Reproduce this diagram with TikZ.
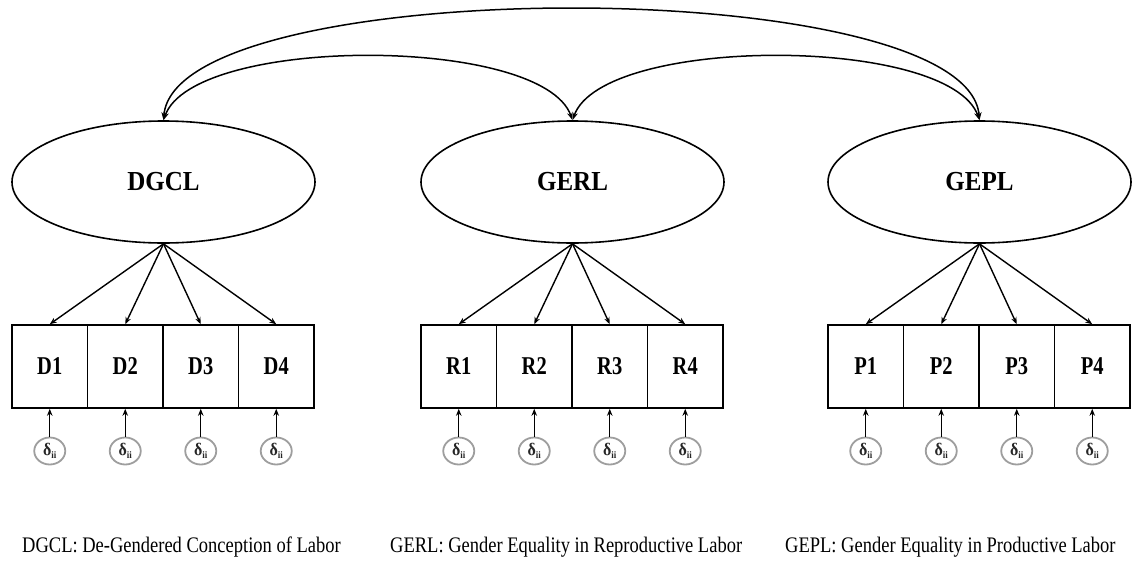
\documentclass[tikz,border=0pt]{standalone}
\usepackage{graphicx}
\usepackage{fontspec}
\setmainfont{Liberation Serif}
\usetikzlibrary{shapes.geometric,arrows.meta}

% taller, narrow-looking lettering used throughout
\newcommand{\tall}[2][1.2]{\scalebox{1}[#1]{#2}}

\begin{document}
\begin{tikzpicture}[x=1pt,y=-1pt,
  latent/.style={ellipse,draw,line width=1.6pt,minimum width=303pt,minimum height=122pt,
    inner sep=0pt,font=\fontsize{25}{30}\selectfont\bfseries},
  indicator/.style={rectangle,draw,line width=1.6pt,minimum width=75.5pt,minimum height=83pt,
    inner sep=0pt,font=\fontsize{20.5}{24}\selectfont\bfseries},
  err/.style={ellipse,draw=black!38,line width=1.8pt,minimum width=31pt,minimum height=27pt,
    inner sep=0pt,text=black!85},
  load/.style={-{Stealth[length=7pt,width=5.5pt]},line width=1.4pt},
  cov/.style={{Stealth[length=8pt,width=5.5pt]}-{Stealth[length=8pt,width=5.5pt]},line width=1.5pt},
  legend/.style={anchor=base west,inner sep=0pt,font=\fontsize{18.5}{22}\selectfont}
]
\useasboundingbox (0,0) rectangle (1133,560);

% latent factors
\node[latent] (DGCL) at (163.5,182) {\tall[1.1]{DGCL}};
\node[latent] (GERL) at (572.5,182) {\tall[1.1]{GERL}};
\node[latent] (GEPL) at (979.5,182) {\tall[1.1]{GEPL}};

% indicators, their error terms and the loadings
\foreach \g/\f/\xs in {D/DGCL/12, R/GERL/421, P/GEPL/828} {
  \foreach \i in {1,...,4} {
    \node[indicator] (\g\i) at ({\xs+37.75+75.5*(\i-1)},366.5) {\tall[1.25]{\g\i}};
    \node[err] (e\g\i) at ({\xs+37.75+75.5*(\i-1)},451)
      {\fontsize{16}{16}\selectfont\bfseries\tall[1.1]{δ\raisebox{-3pt}{\fontsize{9}{9}\selectfont ii}}};
    \draw[load] (e\g\i) -- (\g\i);
    \draw[load] (\f.south) -- (\g\i.north);
  }
}

% factor covariances
\draw[cov] (DGCL.north) .. controls +(30,-85) and +(-30,-85) .. (GERL.north);
\draw[cov] (GERL.north) .. controls +(30,-85) and +(-30,-85) .. (GEPL.north);
\draw[cov] (DGCL.north) .. controls +(12,-148) and +(-12,-148) .. (GEPL.north);

% legend
\node[legend] (legD) at (22,552) {\tall{DGCL: De-Gendered Conception of Labor}};
\node[legend] (legR) at (390,552) {\tall{GERL: Gender Equality in Reproductive Labor}};
\node[legend] (legP) at (785,552) {\tall{GEPL: Gender Equality in Productive Labor}};
\end{tikzpicture}
\end{document}
